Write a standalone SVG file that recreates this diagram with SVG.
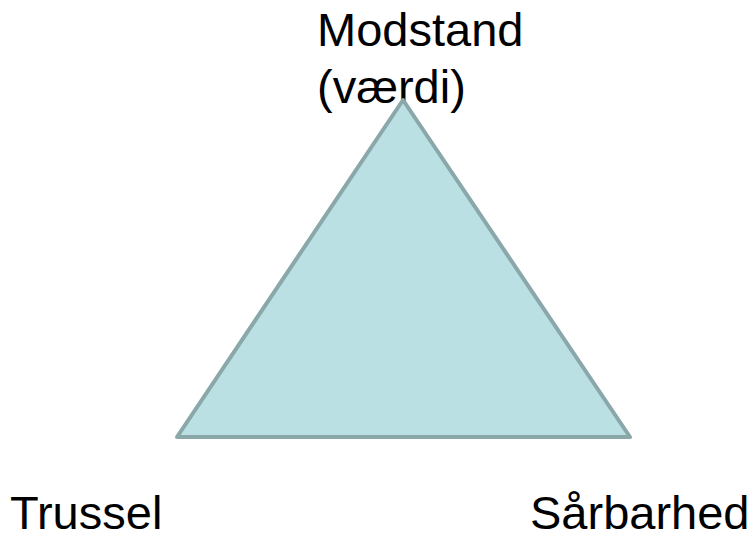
<svg xmlns="http://www.w3.org/2000/svg" width="754" height="533" viewBox="0 0 754 533">
<style>
.lbl{font-family:"Liberation Sans",Arial,sans-serif;font-size:47px;fill:#000}
.tri{fill:#bbe0e3;stroke:#8aa7a9;stroke-width:4;stroke-linejoin:round}
</style>
<rect width="754" height="533" fill="#fff"/>
<g id="modstand"><text class="lbl" x="317" y="46">Modstand</text><text class="lbl" x="317" y="103">(værdi)</text></g>
<g id="triangle"><polygon class="tri" points="403,100 630,437 177,437"/></g>
<g id="trussel"><text class="lbl" x="10" y="529">Trussel</text></g>
<g id="saarbarhed"><text class="lbl" x="530" y="529">Sårbarhed</text></g>
<g id="connectors"></g>
</svg>
